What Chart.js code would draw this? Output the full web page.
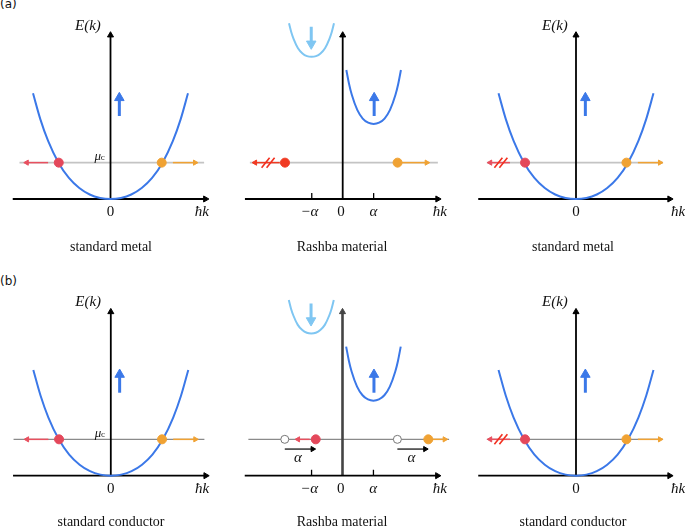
<!DOCTYPE html>
<html>
<head>
<meta charset="utf-8">
<script src="https://cdn.jsdelivr.net/npm/chart.js@4.4.1/dist/chart.umd.min.js"></script>
<style>
  body { margin: 0; background: #fff; }
  #fig { position: relative; width: 685px; height: 529px; overflow: hidden; }
  #fig canvas { position: absolute; }
  .cap { position: absolute; font: 14px "Liberation Serif", serif; line-height: 1; transform: translateX(-50%); white-space: nowrap; color: #111; }
  .tag { position: absolute; left: 0; font: 12px "DejaVu Sans", sans-serif; line-height: 1; color: #111; }
</style>
</head>
<body>
<div id="fig">
  <div class="tag" style="top:-2px">(a)</div>
  <div class="tag" style="top:275px">(b)</div>
</div>
<script>
// one entry per panel: (a) row then (b) row
const captions = ['standard metal', 'Rashba material', 'standard metal',
                  'standard conductor', 'Rashba material', 'standard conductor'];
const rashba = [false, true, false, false, true, false];

const mu = 2.02;      // chemical potential
const alpha = 1.19;   // Rashba momentum shift

// standard band (k, E)
const kBand = [-2.98, -2.7, -2.4, -2.0, -1.6, -1.2, -0.8, -0.4, 0, 0.4, 0.8, 1.2, 1.6, 2.0, 2.4, 2.7, 2.98];
const eBand = [5.87, 4.44, 3.23, 2.02, 1.17, 0.61, 0.25, 0.06, 0, 0.06, 0.25, 0.61, 1.17, 2.02, 3.23, 4.44, 5.87];
// Rashba spin-up band (dark blue) around +alpha
const kUp = [0.14, 0.245, 0.35, 0.56, 0.77, 0.98, 1.19, 1.4, 1.61, 1.82, 2.03, 2.135, 2.24];
const eUp = [7.17, 6.39, 5.79, 4.95, 4.47, 4.24, 4.17, 4.24, 4.47, 4.95, 5.79, 6.39, 7.17];
// Rashba spin-down band (light blue) around -alpha
const kDown = [-2.065, -1.98, -1.89, -1.72, -1.546, -1.373, -1.2, -1.027, -0.854, -0.68, -0.51, -0.42, -0.335];
const eDown = [9.76, 9.28, 8.9, 8.38, 8.09, 7.94, 7.9, 7.94, 8.09, 8.38, 8.9, 9.28, 9.76];

// chemical potential line ends
const muFrom = [-3.5, -3.57, -3.43, -3.74, -3.62, -3.43];
const muTo = [3.6, 3.66, 3.35, 3.6, 4.1, 3.35];
// occupied states at the Fermi level
const kRed = [-1.99, -2.22, -1.96, -1.99, -1.03, -1.96];
const kOrange = [1.97, 2.11, 1.94, 1.97, 3.3, 1.94];
const kHoles = [-2.22, 2.11];              // empty states, (b) Rashba
// velocity arrows (tail, head)
const redTail = [-2.4, -2.42, -2.54, -2.4, -1.26, -2.54];
const redHead = [-3.22, -3.37, -3.3, -3.22, -1.71, -3.3];
const orangeTail = [2.4, 2.27, 2.38, 2.4, 3.47, 2.38];
const orangeHead = [3.25, 3.23, 3.23, 3.25, 3.93, 3.23];
const kBlocked = [null, -2.85, -2.87, null, null, -2.87];
// shift arrows in (b) Rashba
const shiftTail = [-2.22, 2.11];
const shiftHead = [-1.15, 3.18];
const eShift = 1.48;
// spin arrows
const kSpinUp = [0.34, 1.21, 0.36, 0.34, 1.21, 0.36];
const eSpinUp = [4.61, 5.62];
const kSpinDown = -1.21;
const eSpinDown = [9.57, 8.62];
// axes
const kAxis = [-3.76, 3.65];
const eAxis = [0, 9.1];

// layout: canvas left, top, width, height, origin x, origin y (px)
const PX_K = 26, PX_E = 18;
const boxes = [
  [0, 0, 228, 240, 110.5, 199], [228, 0, 228, 240, 114.7, 199], [456, 0, 229, 240, 120, 199],
  [0, 277, 228, 252, 110.8, 198.7], [228, 277, 228, 252, 114.5, 198.7], [456, 277, 229, 252, 120, 198.7]
];
const capX = [111, 342, 573];

const BLUE = '#3b78e8', LIGHT = '#7fc6f2', RED = '#e4485b', ORANGE = '#f0a233';
const serif = '"Liberation Serif", serif';

const zip = (ks, es) => ks.map((k, j) => ({ x: k, y: es[j] }));
const line = (pts, color, width, order, extra) => Object.assign(
  { data: pts, showLine: true, borderColor: color, borderWidth: width, pointRadius: 0, order: order, clip: false }, extra);
const arrow = (a, b, color, width, head, rot, order) => line([a, b], color, width, order, {
  pointRadius: [0, head], pointStyle: 'triangle', pointRotation: [0, rot],
  pointBackgroundColor: color, pointBorderColor: color, pointBorderWidth: 1
});
const dots = (pts, fill, stroke) => ({
  data: pts, showLine: false, pointRadius: 4.5, pointBackgroundColor: fill,
  pointBorderColor: stroke, pointBorderWidth: 1, order: 0, clip: false
});

function textPlugin(i) {
  const right = i % 3 === 2, left = i % 3 === 0;
  return {
    id: 'txt' + i,
    afterDraw(chart) {
      const { ctx, scales: { x, y } } = chart;
      const put = (t, k, e, font) => {
        ctx.font = font;
        ctx.fillText(t, x.getPixelForValue(k), y.getPixelForValue(e));
      };
      ctx.save();
      ctx.fillStyle = '#111';
      ctx.textAlign = 'center';
      ctx.textBaseline = 'middle';
      const it = 'italic 15px ' + serif, up = '15px ' + serif;
      if (rashba[i]) {
        put('\u2212\u03b1', -1.28, -0.72, it);
        put('0', -0.07, -0.72, up);
        put('\u03b1', 1.18, -0.72, it);
        put('\u0127k', 3.74, -0.72, it);
        if (i > 2) {
          put('\u03b1', -1.71, 1.0, it);
          put('\u03b1', 2.65, 1.0, it);
        }
      } else {
        put('E(k)', right ? -0.81 : -0.87, 9.62, it);
        put('0', 0, -0.72, up);
        put('\u0127k', right ? 3.93 : 3.51, -0.72, it);
        if (left) {
          put('\u03bc', -0.49, 2.36, 'italic 13px ' + serif);
          put('c', -0.3, 2.28, '9px ' + serif);
        }
      }
      // blocked transport marks
      if (kBlocked[i] !== null) {
        const px = x.getPixelForValue(kBlocked[i]), py = y.getPixelForValue(mu);
        ctx.strokeStyle = '#f2301f';
        ctx.lineWidth = 1.6;
        ctx.beginPath();
        for (const d of [-3, 2]) {
          ctx.moveTo(px + d - 4, py + 5);
          ctx.lineTo(px + d + 4, py - 5);
        }
        ctx.stroke();
      }
      ctx.restore();
    }
  };
}

const fig = document.getElementById('fig');
boxes.forEach((b, i) => {
  const [left, top, w, h, ox, oy] = b;
  const cv = document.createElement('canvas');
  cv.width = w; cv.height = h;
  cv.style.left = left + 'px'; cv.style.top = top + 'px';
  fig.appendChild(cv);

  const cap = document.createElement('div');
  cap.className = 'cap';
  cap.textContent = captions[i];
  cap.style.left = capX[i % 3] + 'px';
  cap.style.top = (i < 3 ? 240 : 515) + 'px';
  fig.appendChild(cap);

  const rowB = i > 2;
  const xHead = i % 3 === 2 ? kAxis[1] - 0.05 : kAxis[1];
  const ds = [];
  ds.push(line([{ x: muFrom[i], y: mu }, { x: muTo[i], y: mu }], rowB ? '#8a8a8a' : '#c4c4c4', rowB ? 1.1 : 1.6, 6));
  ds.push(arrow({ x: kAxis[0], y: 0 }, { x: xHead, y: 0 }, '#000', 1.8, 3.5, 90, 5));
  const yAxisCol = rashba[i] && rowB ? '#444' : '#000';
  ds.push(arrow({ x: 0, y: eAxis[0] }, { x: 0, y: eAxis[1] }, yAxisCol, rashba[i] && rowB ? 2.6 : 1.8, 3.5, 0, 5));

  if (rashba[i]) {
    ds.push(line([{ x: -alpha, y: 0 }, { x: -alpha, y: 0.33 }], '#000', 1.3, 5));
    ds.push(line([{ x: alpha, y: 0 }, { x: alpha, y: 0.33 }], '#000', 1.3, 5));
    ds.push(line(zip(kUp, eUp), BLUE, 2, 3, { cubicInterpolationMode: 'monotone' }));
    ds.push(line(zip(kDown, eDown), LIGHT, 2, 3, { cubicInterpolationMode: 'monotone' }));
    ds.push(arrow({ x: kSpinDown, y: eSpinDown[0] }, { x: kSpinDown, y: eSpinDown[1] }, LIGHT, 3, 5.5, 180, 2));
  } else {
    ds.push(line(zip(kBand, eBand), BLUE, 2, 3, { cubicInterpolationMode: 'monotone' }));
  }
  ds.push(arrow({ x: kSpinUp[i], y: eSpinUp[0] }, { x: kSpinUp[i], y: eSpinUp[1] }, BLUE, 3, 5.5, 0, 2));

  const redCol = i === 1 ? '#f03a22' : RED;
  ds.push(arrow({ x: redTail[i], y: mu }, { x: redHead[i], y: mu }, i === 1 ? '#f03a22' : '#e8505f', 1.5, 3, -90, 1));
  ds.push(arrow({ x: orangeTail[i], y: mu }, { x: orangeHead[i], y: mu }, ORANGE, 1.5, 3, 90, 1));

  if (rashba[i] && rowB) {
    ds.push(arrow({ x: shiftTail[0], y: eShift }, { x: shiftHead[0], y: eShift }, '#000', 1.2, 3, 90, 1));
    ds.push(arrow({ x: shiftTail[1], y: eShift }, { x: shiftHead[1], y: eShift }, '#000', 1.2, 3, 90, 1));
    ds.push(Object.assign(dots(kHoles.map(k => ({ x: k, y: mu })), '#fff', '#777'), { pointRadius: 4 }));
  }
  ds.push(dots([{ x: kRed[i], y: mu }], redCol, redCol));
  ds.push(dots([{ x: kOrange[i], y: mu }], ORANGE, ORANGE));

  new Chart(cv, {
    type: 'scatter',
    data: { datasets: ds },
    options: {
      responsive: false,
      animation: false,
      events: [],
      layout: { padding: 0, autoPadding: false },
      plugins: { legend: { display: false }, tooltip: { enabled: false } },
      scales: {
        x: { type: 'linear', display: false, min: -ox / PX_K, max: (w - ox) / PX_K },
        y: { type: 'linear', display: false, min: -(h - oy) / PX_E, max: oy / PX_E }
      }
    },
    plugins: [textPlugin(i)]
  });
});
</script>
</body>
</html>
